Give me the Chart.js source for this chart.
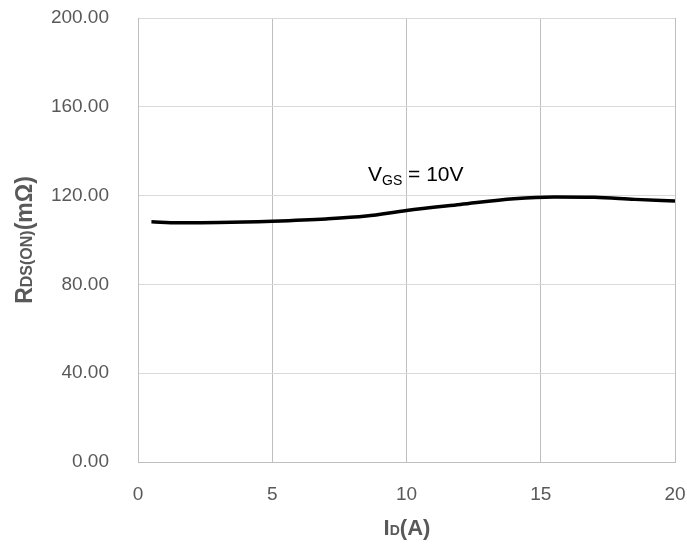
<!DOCTYPE html>
<html>
<head>
<meta charset="utf-8">
<script src="https://cdn.jsdelivr.net/npm/chart.js@4"></script>
<style>
  html, body { margin: 0; padding: 0; background: #fff; }
  #wrap { position: relative; width: 687px; height: 548px; }
</style>
</head>
<body>
<div id="wrap"><canvas id="chart"></canvas></div>
<script>
// I_D (A) vs R_DS(ON) (mΩ), VGS = 10V
const currentA = [0.5, 1.5, 3, 5, 7, 8.5, 10, 12, 14, 15.5, 17, 18.5, 20];
const rdsOn = [108.2, 107.8, 107.9, 108.5, 109.5, 110.8, 113.3, 116, 118.6, 119.4, 119.3, 118.3, 117.6];
const xTicks = [0, 5, 10, 15, 20];
const yTicks = [0, 40, 80, 120, 160, 200];

const GRID_V = "#bfbfbf";
const GRID_H = "#d9d9d9";
const TEXT = "#595959";
const FONT = "'Liberation Sans', Arial, sans-serif";

// draws text pieces in a row, each with its own font and baseline shift
function drawRuns(ctx, runs, x, y, align) {
    let total = 0;
    runs.forEach((r) => { ctx.font = r.font; total += ctx.measureText(r.text).width; });
    let cx = align === "center" ? x - total / 2 : x;
    runs.forEach((r) => {
        ctx.font = r.font;
        ctx.fillText(r.text, cx, y + (r.dy || 0));
        cx += ctx.measureText(r.text).width;
    });
}

const labelsPlugin = {
    id: "labels",
    afterDraw(chart) {
        const ctx = chart.ctx;
        ctx.save();
        ctx.textBaseline = "alphabetic";
        ctx.textAlign = "left";

        // annotation
        ctx.fillStyle = "#000";
        drawRuns(ctx, [
            { text: "V", font: `21px ${FONT}` },
            { text: "GS", font: `14px ${FONT}`, dy: 4 },
            { text: " = 10V", font: `21px ${FONT}` },
        ], 368, 181, "left");

        // x title
        ctx.fillStyle = TEXT;
        drawRuns(ctx, [
            { text: "I", font: `bold 22px ${FONT}` },
            { text: "D", font: `bold 14px ${FONT}` },
            { text: "(A)", font: `bold 22px ${FONT}` },
        ], 407, 535, "center");

        // y title
        ctx.translate(32, 240);
        ctx.rotate(-Math.PI / 2);
        drawRuns(ctx, [
            { text: "R", font: `bold 23px ${FONT}` },
            { text: "DS(ON)", font: `bold 16px ${FONT}` },
            { text: "(mΩ)", font: `bold 23px ${FONT}` },
        ], 0, 0, "center");
        ctx.restore();
    },
};

new Chart(document.getElementById("chart"), {
    type: "line",
    data: {
        datasets: [{
            data: currentA.map((v, i) => ({ x: v, y: rdsOn[i] })),
            borderColor: "#000",
            borderWidth: 3.5,
            pointRadius: 0,
            tension: 0.4,
            cubicInterpolationMode: "monotone",
            fill: false,
        }],
    },
    options: {
        responsive: true,
        maintainAspectRatio: false,
        animation: false,
        layout: { padding: { top: 18, right: 12, left: 0, bottom: 0 } },
        plugins: { legend: { display: false }, tooltip: { enabled: false } },
        scales: {
            x: {
                type: "linear",
                min: 0,
                max: 20,
                afterBuildTicks: (s) => { s.ticks = xTicks.map((v) => ({ value: v })); },
                afterFit: (s) => {
                    s.height = 86;
                    s.paddingLeft = 0;
                    s.paddingRight = 0;
                },
                grid: { color: GRID_V, lineWidth: 1, drawTicks: false },
                border: { color: GRID_V },
                ticks: { color: TEXT, font: { family: FONT, size: 19 }, padding: 21 },
            },
            y: {
                min: 0,
                max: 200,
                afterBuildTicks: (s) => { s.ticks = yTicks.map((v) => ({ value: v })); },
                afterFit: (s) => {
                    s.width = 138;
                    s.paddingTop = 0;
                    s.paddingBottom = 0;
                },
                grid: { color: GRID_H, lineWidth: 1, drawTicks: false },
                border: { color: GRID_V },
                ticks: {
                    color: TEXT,
                    font: { family: FONT, size: 19 },
                    padding: 29,
                    callback: (v) => v.toFixed(2),
                },
            },
        },
    },
    plugins: [labelsPlugin],
});
</script>
</body>
</html>
